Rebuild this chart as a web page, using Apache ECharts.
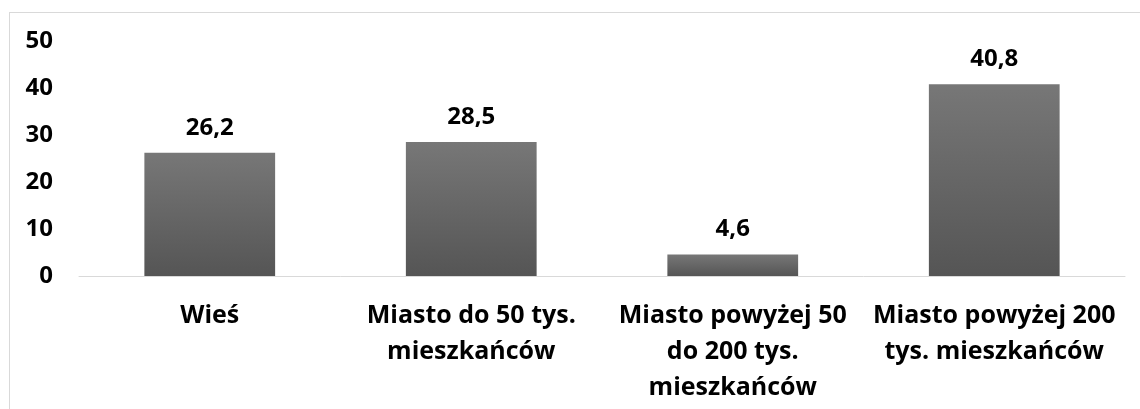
<!DOCTYPE html>
<html>
<head>
<meta charset="utf-8">
<script src="https://cdn.jsdelivr.net/npm/echarts@6/dist/echarts.min.js"></script>
<style>
  html, body { margin: 0; padding: 0; background: #fff; }
  #wrap { position: relative; width: 1140px; height: 409px; overflow: hidden; }
  #frame { position: absolute; left: 9px; top: 12px; width: 1200px; height: 500px; border: 1px solid #d9d9d9; }
  #chart { position: absolute; left: 0; top: 0; width: 1140px; height: 409px; }
</style>
</head>
<body>
<div id="wrap">
  <div id="frame"></div>
  <div id="chart"></div>
</div>
<script>
const categories = [
  'Wieś',
  'Miasto do 50 tys.\nmieszkańców',
  'Miasto powyżej 50\ndo 200 tys.\nmieszkańców',
  'Miasto powyżej 200\ntys. mieszkańców'
];
const values = [26.2, 28.5, 4.6, 40.8];

const font = '"Open Sans", "Noto Sans", sans-serif';

const chart = echarts.init(document.getElementById('chart'));
chart.setOption({
  animation: false,
  grid: { left: 79, right: 15, top: 41, bottom: 133 },
  xAxis: {
    type: 'category',
    data: categories,
    axisLine: { lineStyle: { color: '#d9d9d9', width: 1 } },
    axisTick: { show: false },
    axisLabel: {
      interval: 0,
      margin: 22,
      color: '#000',
      fontFamily: font,
      fontWeight: 'bold',
      fontSize: 25,
      lineHeight: 36
    }
  },
  yAxis: {
    type: 'value',
    min: 0,
    max: 50,
    interval: 10,
    splitLine: { show: false },
    axisLine: { show: false },
    axisTick: { show: false },
    axisLabel: {
      margin: 26,
      color: '#000',
      fontFamily: font,
      fontWeight: 'bold',
      fontSize: 24
    }
  },
  series: [{
    type: 'bar',
    data: values,
    barWidth: '50%',
    itemStyle: {
      color: new echarts.graphic.LinearGradient(0, 0, 0, 1, [
        { offset: 0, color: '#777777' },
        { offset: 1, color: '#555555' }
      ])
    },
    label: {
      show: true,
      position: 'top',
      distance: 13,
      color: '#000',
      fontFamily: font,
      fontWeight: 'bold',
      fontSize: 24,
      formatter: (p) => p.value.toFixed(1).replace('.', ',')
    }
  }]
});
</script>
</body>
</html>
